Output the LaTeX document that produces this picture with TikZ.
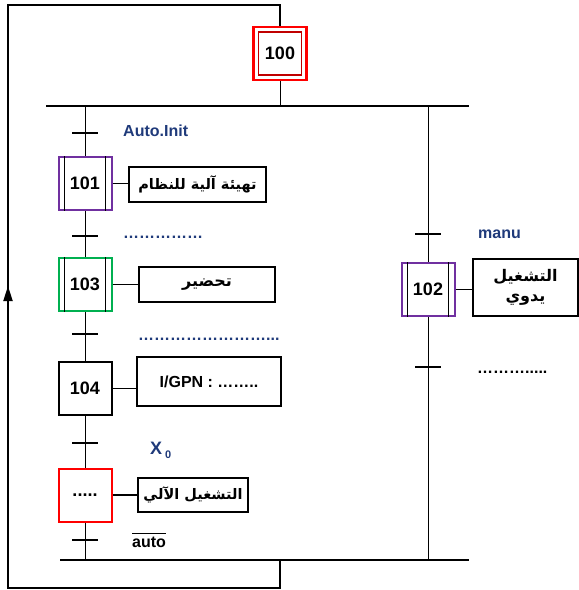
\documentclass[tikz,border=0pt]{standalone}
\usepackage{fontspec}
\setmainfont{Liberation Sans}
\newfontfamily\arabicfont[Script=Arabic]{DejaVu Sans}
\TeXXeTstate=1
\usetikzlibrary{arrows.meta}
\definecolor{gblue}{HTML}{1F3A7A}
\definecolor{gpurple}{HTML}{7030A0}
\definecolor{ggreen}{HTML}{00B050}
\definecolor{gred}{HTML}{FF0000}
\definecolor{gdred}{HTML}{C00000}
\begin{document}
\begin{tikzpicture}[x=1pt,y=-1pt,
  stepbox/.style={draw, line width=2pt, minimum width=53pt, minimum height=53pt, inner sep=0pt,
    font=\fontsize{18}{18}\selectfont\bfseries},
  actbox/.style={draw, line width=2pt, inner sep=0pt,
    font=\fontsize{16}{20}\selectfont\bfseries\arabicfont},
  smallar/.style={font=\fontsize{14.5}{18}\selectfont\bfseries\arabicfont},
  trans/.style={line width=1.6pt},
  link/.style={line width=1pt},
  hlink/.style={line width=1.6pt},
  loopline/.style={line width=2pt},
  bar/.style={line width=2.4pt},
  lbl/.style={text=gblue, font=\fontsize{16}{16}\selectfont\bfseries, anchor=west, inner sep=0pt},
  inner/.style={line width=0.8pt},
]
\useasboundingbox (0,0) rectangle (579,590);

% coordinates for bars
\coordinate (tbL) at (46,106);
\coordinate (tbR) at (469,106);
\coordinate (bbL) at (60,560);
\coordinate (bbR) at (469,560);
\coordinate (tb1) at (85,106);
\coordinate (tb2) at (280,106);
\coordinate (tb3) at (428,106);
\coordinate (bb1) at (85,560);
\coordinate (bb2) at (280,560);
\coordinate (bb3) at (428,560);
\coordinate (lpA) at (280,588);
\coordinate (lpB) at (8,588);
\coordinate (lpC) at (8,5);
\coordinate (lpD) at (280,5);
\coordinate (arT) at (8,286);
\coordinate (arB) at (8,302);

% steps
\node[stepbox, draw=gred, line width=2.4pt] (s100) at (280,53.5) {};
\node[draw=gdred, line width=1.8pt, minimum width=43pt, minimum height=43pt, inner sep=0pt,
  font=\fontsize{18}{18}\selectfont\bfseries] (s100i) at (s100) {100};
\node[stepbox, draw=gpurple] (s101) at (85,183.5) {101};
\node[stepbox, draw=ggreen] (s103) at (85,284.5) {103};
\node[stepbox] (s104) at (85,388.5) {104};
\node[stepbox, draw=gred] (s105) at (85,495) {.....};
\node[stepbox, draw=gpurple] (s102) at (428,289.5) {102};

% inner lines of steps
\foreach \s in {s101,s103,s102}{
  \draw[inner] ([xshift=7pt]\s.north west) -- ([xshift=7pt]\s.south west);
  \draw[inner] ([xshift=-7pt]\s.north east) -- ([xshift=-7pt]\s.south east);
}

% actions
\node[actbox, smallar, minimum width=137pt, minimum height=35pt] (a101) at (197.5,184.5) {\beginR تهيئة آلية للنظام\endR};
\node[actbox, minimum width=136pt, minimum height=35pt] (a103) at (207,284.5) {\beginR تحضير\endR};
\node[actbox, minimum width=144pt, minimum height=49pt, font=\fontsize{16}{16}\selectfont\bfseries] (a104) at (209,381.5) {I/GPN : ……..};
\node[actbox, smallar, minimum width=110pt, minimum height=34pt] (a105) at (193,495) {\beginR التشغيل الآلي\endR};
\node[actbox, minimum width=105pt, minimum height=57pt, align=center] (a102) at (525.5,287.5) {\beginR التشغيل\endR\\\beginR يدوي\endR};

\foreach \s/\a in {s101/a101,s103/a103,s104/a104,s105/a105,s102/a102}{
  \draw[hlink] (\s.east) -- (\s.east -| \a.west);
}

% bars
\draw[bar] (tbL) -- (tbR);
\draw[bar] (bbL) -- (bbR);

% vertical links
\draw[link] (s100.south) -- (tb2);
\draw[link] (tb1) -- (s101.north);
\draw[link] (s101.south) -- (s103.north);
\draw[link] (s103.south) -- (s104.north);
\draw[link] (s104.south) -- (s105.north);
\draw[link] (s105.south) -- (bb1);
\draw[link] (tb3) -- (s102.north);
\draw[link] (s102.south) -- (bb3);

% loop
\draw[loopline] (bb2) -- (lpA) -- (lpB) -- (lpC) -- (lpD) -- (s100.north);
\draw[loopline, -{Triangle[length=15pt,width=9pt]}] (arB) -- (arT);

% transitions
\foreach \y in {133,236,334,443,540}{
  \draw[trans] (72,\y) -- (98,\y);
}
\foreach \y in {234,367}{
  \draw[trans] (415,\y) -- (441,\y);
}

% labels
\node[lbl] (lAuto) at (123,131) {Auto.Init};
\node[lbl] (lDot1) at (123,237) {……………};
\node[lbl] (lDot2) at (138,339) {……………………...};
\node[lbl, text=black] (lDot3) at (477,372) {……….....};
\node[lbl, font=\fontsize{18}{18}\selectfont\bfseries] (lX) at (150,450) {X\,\raisebox{-4pt}{\fontsize{11}{11}\selectfont 0}};
\node[lbl, text=black] (lauto) at (132,542) {auto};
\draw[line width=1.3pt] ([yshift=3pt]lauto.north west) -- ([yshift=3pt]lauto.north east);
\node[lbl] (lmanu) at (478,234) {manu};
\end{tikzpicture}
\end{document}
